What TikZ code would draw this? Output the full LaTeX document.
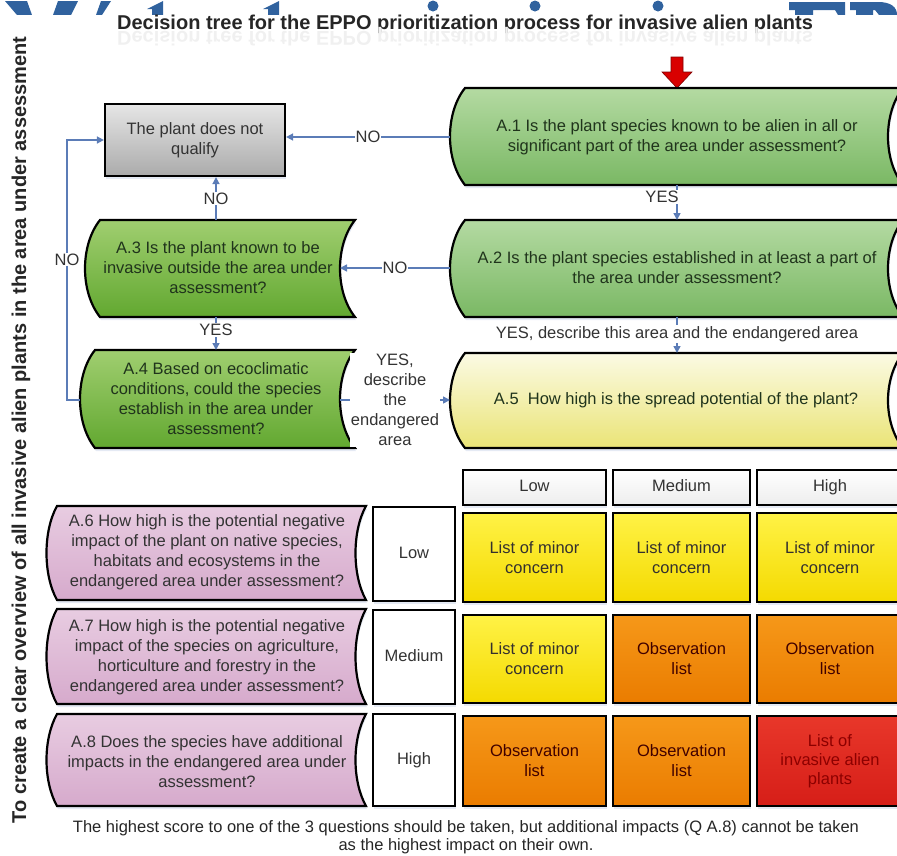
\documentclass[tikz,border=0pt]{standalone}
\usepackage{fontspec}
\setmainfont{Liberation Sans}
\usetikzlibrary{arrows.meta,shadows}
\definecolor{conn}{RGB}{91,124,183}
\definecolor{wm}{RGB}{48,98,158}
\definecolor{gtop}{RGB}{180,218,162}
\definecolor{gbot}{RGB}{122,184,100}
\definecolor{dtop}{RGB}{160,206,112}
\definecolor{dbot}{RGB}{98,168,48}
\definecolor{ytop}{RGB}{251,250,228}
\definecolor{ybot}{RGB}{234,228,118}
\definecolor{ptop}{RGB}{232,204,225}
\definecolor{pbot}{RGB}{214,170,204}
\definecolor{cytop}{RGB}{255,242,70}
\definecolor{cybot}{RGB}{244,218,0}
\definecolor{cotop}{RGB}{246,152,25}
\definecolor{cobot}{RGB}{234,124,0}
\definecolor{crtop}{RGB}{232,55,42}
\definecolor{crbot}{RGB}{214,30,24}
\definecolor{gtext}{RGB}{32,52,28}
\newcommand\sdshape[6]{\path[#1] (#2,#3) -- (#4,#3) .. controls +(-#6,25) and +(-#6,-25) .. (#4,#5) -- (#2,#5) .. controls +(-#6,-25) and +(-#6,25) .. (#2,#3) -- cycle;}
\tikzset{
  shd/.style={drop shadow={shadow xshift=1pt,shadow yshift=-3pt,fill=conn!35,opacity=.45}},
  sd/.style={draw=black,line width=2.2pt,shd},
  greenL/.style={sd,top color=gtop,bottom color=gbot},
  greenD/.style={sd,top color=dtop,bottom color=dbot},
  yellowS/.style={sd,top color=ytop,bottom color=ybot},
  pinkS/.style={sd,top color=ptop,bottom color=pbot},
  txt/.style={align=center,font=\fontsize{16.5}{20}\selectfont},
  gtxt/.style={txt,text=gtext},
  ptxt/.style={txt,text=black!80},
  lbl/.style={fill=white,inner sep=1pt,text=black!80,align=center,font=\fontsize{16.5}{20}\selectfont},
  conn/.style={draw=conn,line width=1.5pt,-{Triangle[length=7pt,width=7pt]}},
  cellbox/.style={draw=black,line width=2.2pt,shd,rectangle,align=center,font=\fontsize{16.5}{20}\selectfont,inner sep=0pt},
  cyel/.style={cellbox,top color=cytop,bottom color=cybot,text=black!80!yellow!40!black},
  corg/.style={cellbox,top color=cotop,bottom color=cobot,text=black!75!red},
  cred/.style={cellbox,top color=crtop,bottom color=crbot,text=red!55!black},
  hdr/.style={cellbox,top color=white,bottom color=black!7,text=black!80,text height=12pt,text depth=3.5pt},
  rowl/.style={cellbox,fill=white,text=black!80,text height=12pt,text depth=3.5pt},
}
\begin{document}
\begin{tikzpicture}[x=1pt,y=-1pt]
\useasboundingbox (0,0) rectangle (897,855);
\clip (0,0) rectangle (897,855);
% partially hidden big blue banner letters
\begin{scope}
\clip (0,0) rectangle (897,14);
\fill[wm] (5,1) -- (27,1) -- (32,15) -- (17,15) -- cycle;
\fill[wm] (58,1) -- (78,1) -- (71,15) -- (53,15) -- cycle;
\fill[wm] (101,1) -- (111,1) -- (102,15) -- (96,15) -- cycle;
\fill[wm] (163,1) -- (163,15) -- (152,15) -- (152,9) -- (147,9) -- cycle;
\fill[wm] (279,1) -- (279,15) -- (268,15) -- (268,9) -- (263,9) -- cycle;
\fill[wm] (433,6) circle (5.5);
\fill[wm] (535,6) circle (5.5);
\fill[wm] (658,6) circle (5.5);
\fill[wm] (789,2) -- (845,2) -- (845,15) -- (838,15) -- (835,10) -- (813,10) -- (813,15) -- (795,15) -- (795,10) -- (789,10) -- cycle;
\fill[wm] (850,2) -- (878,2) .. controls (891,2) and (897,7) .. (897,15) -- (879,15) -- (875,10) -- (873,10) -- (873,15) -- (856,15) -- (856,10) -- (850,10) -- cycle;
\end{scope}
% title and its faint reflection
\node[font=\bfseries\fontsize{20}{24}\selectfont,text=black!85,inner sep=0pt,anchor=base] (title) at (465,29) {Decision tree for the EPPO prioritization process for invasive alien plants};
\begin{scope}[shift={(465,31)},yscale=-1]
\node[transform shape,font=\bfseries\fontsize{20}{24}\selectfont,text=black!6,inner sep=0pt,anchor=base] (refl) at (0,0) {Decision tree for the EPPO prioritization process for invasive alien plants};
\end{scope}
% side text
\node[rotate=90,font=\bfseries\fontsize{20}{24}\selectfont,text=black!85,inner sep=0pt] (side) at (21,430) {To create a clear overview of all invasive alien plants in the area under assessment};
% red start arrow
\path[fill=red!85!black,draw=red!50!black,line width=0.6pt] (671,57) -- (683,57) -- (683,72) -- (692,72) -- (677,88) -- (662,72) -- (671,72) -- cycle;
% gray box
\node[draw=black,line width=2.2pt,shd,top color=black!10,bottom color=black!33,minimum width=180pt,minimum height=72pt,inner sep=0pt,txt,text=black!80] (q) at (195,140) {The plant does not\\qualify};
% question shapes
\sdshape{greenL}{465}{88}{903}{185}{20}
\node[gtxt] (a1) at (677,137) {A.1 Is the plant species known to be alien in all or\\significant part of the area under assessment?};
\sdshape{greenL}{465}{220}{903}{317}{20}
\node[gtxt] (a2) at (677,268) {A.2 Is the plant species established in at least a part of\\the area under assessment?};
\sdshape{yellowS}{465}{353}{903}{448}{20}
\node[gtxt] (a5) at (676,400) {A.5\ \ How high is the spread potential of the plant?};
\sdshape{greenD}{100}{220}{355}{317}{20}
\node[gtxt] (a3) at (218,268) {A.3 Is the plant known to be\\invasive outside the area under\\assessment?};
\sdshape{greenD}{95}{350}{355}{448}{20}
\node[gtxt] (a4) at (216,399) {A.4 Based on ecoclimatic\\conditions, could the species\\establish in the area under\\assessment?};
\sdshape{pinkS}{57}{506}{366}{600}{14}
\node[ptxt] (a6) at (207,552) {A.6 How high is the potential negative\\impact of the plant on native species,\\habitats and ecosystems in the\\endangered area under assessment?};
\sdshape{pinkS}{57}{609}{366}{704}{14}
\node[ptxt] (a7) at (207,657) {A.7 How high is the potential negative\\impact of the species on agriculture,\\horticulture and forestry in the\\endangered area under assessment?};
\sdshape{pinkS}{57}{714}{366}{806}{14}
\node[ptxt] (a8) at (207,762) {A.8 Does the species have additional\\impacts in the endangered area under\\assessment?};
% edge coordinates of the shapes
\coordinate (a1w) at (450,137);
\coordinate (a1s) at (677,185);
\coordinate (a2n) at (677,220);
\coordinate (a2w) at (450,268);
\coordinate (a2s) at (677,317);
\coordinate (a5n) at (677,353);
\coordinate (a5w) at (450,400);
\coordinate (a3e) at (340,268);
\coordinate (a3n) at (216,220);
\coordinate (a3s) at (216,317);
\coordinate (a4n) at (216,350);
\coordinate (a4w) at (80,400);
\coordinate (a4e) at (340,400);
% connectors
\draw[conn] (a1w) -- node[lbl]{NO} (a1w -| q.east);
\draw[conn] (a3n) -- node[lbl]{NO} (a3n |- q.south);
\draw[conn] (a2w) -- node[lbl]{NO} (a3e);
\draw[conn] (a1s) -- node[lbl,pos=0.35,xshift=-15pt]{YES} (a2n);
\draw[conn] (a2s) -- node[lbl,pos=0.47]{YES, describe this area and the endangered area} (a5n);
\draw[conn] (a3s) -- node[lbl,pos=0.4]{YES} (a4n);
\draw[conn] (a4w) -- ++(-13,0) |- node[lbl,pos=0.27]{NO} (q.west);
\draw[conn] (a4e) -- node[lbl]{YES,\\describe\\the\\endangered\\area} (a5w);
% matrix headers
\node[hdr,minimum width=143pt,minimum height=35pt] (hl) at (534.5,487.5) {Low};
\node[hdr,minimum width=137pt,minimum height=35pt] (hm) at (681.5,487.5) {Medium};
\node[hdr,minimum width=146pt,minimum height=35pt] (hh) at (830,487.5) {High};
% row labels
\node[rowl,minimum width=82pt,minimum height=94pt] (rl) at (414,554) {Low};
\node[rowl,minimum width=82pt,minimum height=94pt] (rm) at (414,657) {Medium};
\node[rowl,minimum width=82pt,minimum height=92pt] (rh) at (414,760) {High};
% cells
\node[cyel,minimum width=143pt,minimum height=89pt] (c11) at (534.5,557.5) {List of minor\\concern};
\node[cyel,minimum width=137pt,minimum height=89pt] (c12) at (681.5,557.5) {List of minor\\concern};
\node[cyel,minimum width=146pt,minimum height=89pt] (c13) at (830,557.5) {List of minor\\concern};
\node[cyel,minimum width=143pt,minimum height=88pt] (c21) at (534.5,659) {List of minor\\concern};
\node[corg,minimum width=137pt,minimum height=88pt] (c22) at (681.5,659) {Observation\\list};
\node[corg,minimum width=146pt,minimum height=88pt] (c23) at (830,659) {Observation\\list};
\node[corg,minimum width=143pt,minimum height=90pt] (c31) at (534.5,761) {Observation\\list};
\node[corg,minimum width=137pt,minimum height=90pt] (c32) at (681.5,761) {Observation\\list};
\node[cred,minimum width=146pt,minimum height=90pt,font=\fontsize{16.5}{19}\selectfont] (c33) at (830,761) {List of\\invasive alien\\plants};
% note
\node[align=center,font=\fontsize{16.5}{18}\selectfont,text=black!85] (note) at (466,837) {The highest score to one of the 3 questions should be taken, but additional impacts (Q A.8) cannot be taken\\as the highest impact on their own.};
\end{tikzpicture}
\end{document}
